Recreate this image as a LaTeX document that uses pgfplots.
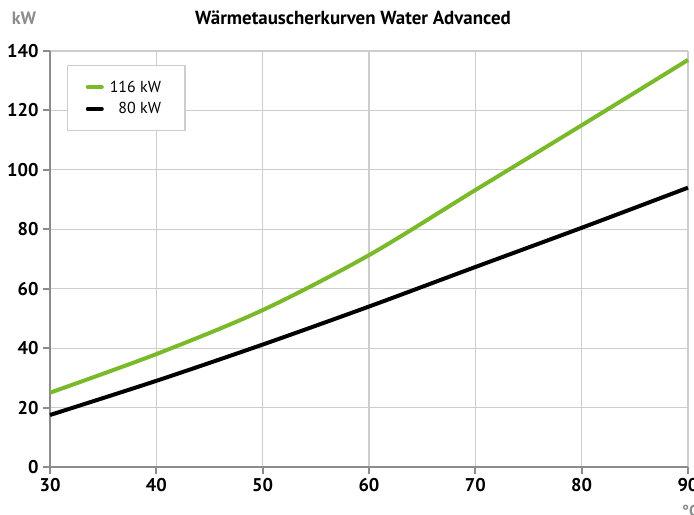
\documentclass[border=0pt]{standalone}
\usepackage{fontspec}
\setmainfont{PT Sans}
\usepackage{pgfplots}
\pgfplotsset{compat=1.18}
\definecolor{lgreen}{RGB}{122,185,41}
\definecolor{axgray}{RGB}{140,140,140}
\definecolor{grgray}{RGB}{205,205,205}
\begin{document}
\begin{tikzpicture}
\begin{axis}[
  at={(0,0)}, anchor=south west,
  scale only axis, width=638bp, height=416bp,
  xmin=30, xmax=90, ymin=0, ymax=140,
  xtick={30,40,...,90}, ytick={0,20,...,140},
  axis x line*=bottom, axis y line*=left,
  axis line style={axgray, line width=2.2pt, -},
  x axis line style={-}, y axis line style={-},
  grid=major, major grid style={grgray, line width=1.2pt},
  tick align=outside, major tick length=7bp,
  tick style={axgray, line width=2pt},
  /pgf/number format/assume math mode=true,
  ticklabel style={font=\fontsize{18.5}{20}\selectfont\bfseries, text=black},
  xticklabel style={yshift=-1bp},
  yticklabel style={xshift=-1bp},
  legend style={at={(0.027,0.966)}, anchor=north west, draw=grgray, line width=1.2pt,
    font=\fontsize{16}{18}\selectfont, inner xsep=18bp, inner ysep=13bp, row sep=5bp,
    nodes={inner xsep=6bp}},
  legend cell align=right,
  legend image code/.code={\draw[#1, line width=4pt, line cap=round] (0bp,0bp) -- (14bp,0bp);},
  clip=false,
]
\addplot[lgreen, line width=4pt, smooth] coordinates {
 (30,25) (40,38) (50,52.8) (60,71.3) (70,93.2) (80,115) (90,137)};
\addlegendentry{116 kW}
\addplot[black, line width=4pt, smooth] coordinates {
 (30,17.5) (40,29) (50,41.2) (60,54) (70,67.3) (80,80.5) (90,94)};
\addlegendentry{80 kW}
\end{axis}
\node[anchor=center, font=\fontsize{19}{21}\selectfont\bfseries] at (303bp,449bp) {Wärmetauscherkurven Water Advanced};
\node[anchor=center, font=\fontsize{18}{20}\selectfont\bfseries, text=axgray] at (-26bp,449bp) {kW};
\node[anchor=center, font=\fontsize{16}{18}\selectfont\bfseries, text=axgray] at (640bp,-44bp) {°C};
\pgfresetboundingbox
\path[use as bounding box] (-50bp,-48bp) rectangle (644bp,467bp);
\end{tikzpicture}
\end{document}
